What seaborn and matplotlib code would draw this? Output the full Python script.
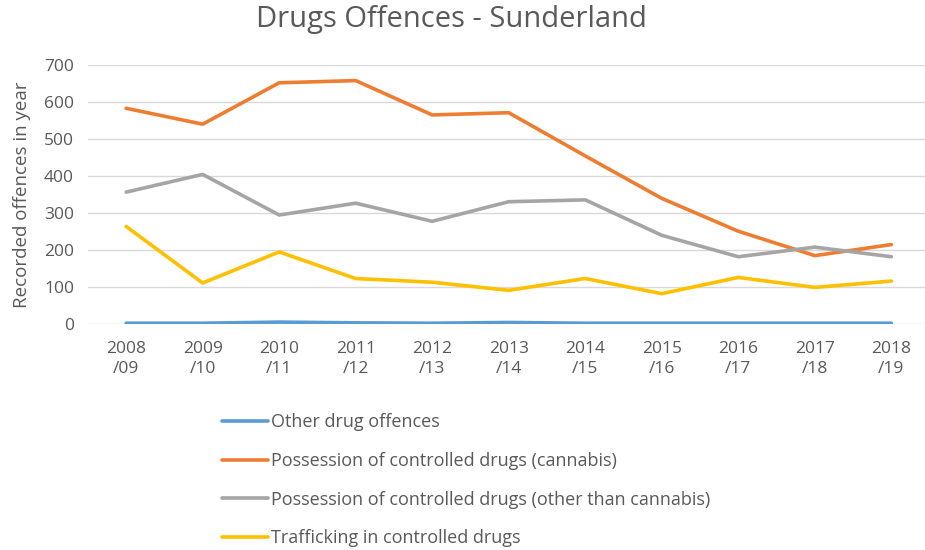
import matplotlib
matplotlib.use("Agg")
import matplotlib.pyplot as plt
import seaborn as sns
import pandas as pd

years = ["2008\n/09", "2009\n/10", "2010\n/11", "2011\n/12", "2012\n/13", "2013\n/14",
         "2014\n/15", "2015\n/16", "2016\n/17", "2017\n/18", "2018\n/19"]
other = [2, 2, 5, 3, 2, 4, 2, 2, 2, 2, 2]
cannabis = [584, 541, 653, 659, 566, 572, 455, 340, 251, 185, 215]
non_cannabis = [357, 405, 295, 327, 278, 331, 336, 240, 182, 208, 182]
trafficking = [264, 111, 195, 123, 113, 91, 123, 82, 126, 99, 116]

series_names = [
    "Other drug offences",
    "Possession of controlled drugs (cannabis)",
    "Possession of controlled drugs (other than cannabis)",
    "Trafficking in controlled drugs",
]
colors = ["#5b9bd5", "#ed7d31", "#a5a5a5", "#ffc000"]

frames = []
for name, vals in zip(series_names, [other, cannabis, non_cannabis, trafficking]):
    frames.append(pd.DataFrame({"year": years, "pos": range(len(years)),
                                "value": vals, "series": name}))
df = pd.concat(frames, ignore_index=True)

sns.set_theme(style="white")
plt.rcParams["font.family"] = ["Open Sans", "DejaVu Sans"]
text_color = "#595959"

fig = plt.figure(figsize=(9.25, 5.5), dpi=100)
ax = fig.add_axes([0.095, 0.411, 0.91, 0.47])

sns.lineplot(data=df, x="pos", y="value", hue="series", palette=colors,
             linewidth=2.6, ax=ax, legend=True, sort=False)

ax.set_xlim(-0.5, len(years) - 0.5)
ax.set_ylim(0, 700)
ax.set_yticks(range(0, 701, 100))
ax.set_xticks(range(len(years)))
ax.set_xticklabels(years, linespacing=1.35)
ax.tick_params(axis="both", colors=text_color, labelsize=12.5, length=0)
ax.tick_params(axis="x", pad=12)
ax.tick_params(axis="y", pad=10)
ax.yaxis.grid(True, color="#d9d9d9", linewidth=1)
ax.set_axisbelow(True)
for s in ax.spines.values():
    s.set_visible(False)
ax.set_xlabel("")
ax.set_ylabel("Recorded offences in year", color=text_color, fontsize=13.5, labelpad=9)

fig.suptitle("Drugs Offences - Sunderland", x=0.488, y=0.99, color=text_color,
             fontsize=21)

handles, labels = ax.get_legend_handles_labels()
ax.legend_.remove()
leg = fig.legend(handles, labels, loc="upper left", bbox_to_anchor=(0.232, 0.262),
                 frameon=False, fontsize=13, labelcolor=text_color,
                 handlelength=2.55, handletextpad=0.2, labelspacing=1.15,
                 borderaxespad=0)

fig.savefig("out.png", dpi=100)
